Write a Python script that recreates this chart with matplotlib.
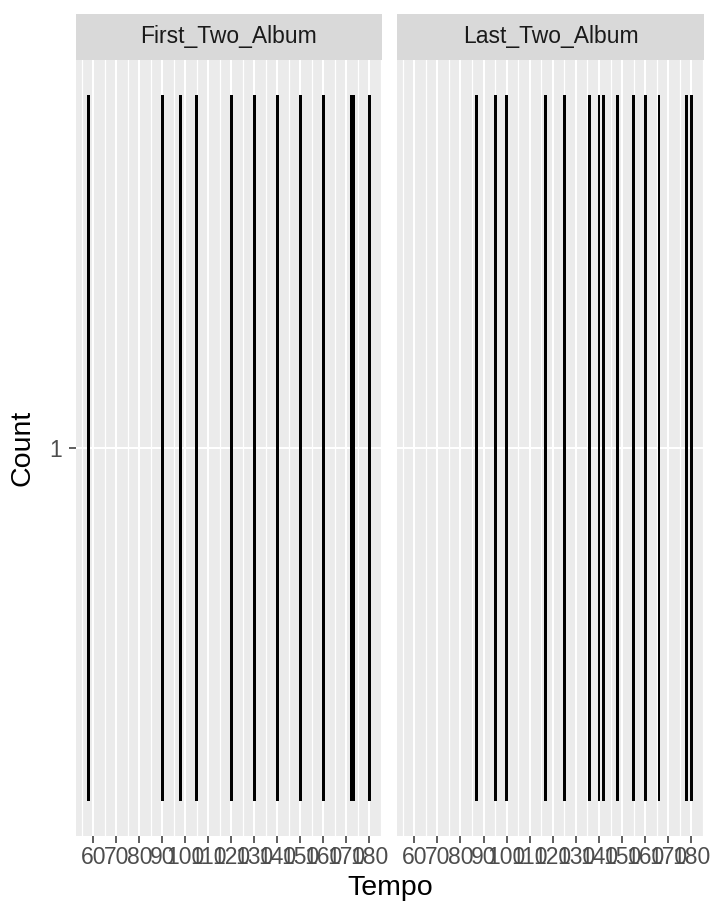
'''Tempo of songs: first two albums vs last two albums'''

import matplotlib
matplotlib.use("Agg")
import matplotlib.pyplot as plt
import numpy as np

# data (one song per tempo value, count = 1)
facets = ["First_Two_Album", "Last_Two_Album"]
first_two = [58, 90, 98, 105, 120, 130, 140, 150, 160, 172, 173, 180]
last_two = [87, 95, 100, 117, 125, 136, 140, 142, 148, 155, 160, 166, 178, 180]
tempos = [first_two, last_two]
x_ticks = list(range(60, 181, 10))
y_ticks = [1]

plt.rcParams["font.family"] = ["Liberation Sans", "DejaVu Sans"]

W, H = 720, 921
fig = plt.figure(figsize=(W / 100, H / 100), dpi=100)

# panel edges in pixels (left, right)
panels = [(76, 382), (397, 704)]
top, bottom = 60, 836
strip_top = 14

for i, (l, r) in enumerate(panels):
    ax = fig.add_axes([l / W, (H - bottom) / H, (r - l) / W, (bottom - top) / H])
    ax.set_facecolor("#EBEBEB")
    ax.bar(tempos[i], np.ones(len(tempos[i])), bottom=0.5, width=1.25, color="black")
    ax.set_xlim(52.5, 185.5)
    ax.set_ylim(0.45, 1.55)
    ax.set_xticks(x_ticks)
    ax.set_xticks(np.arange(55, 186, 10), minor=True)
    ax.set_yticks(y_ticks)
    ax.set_axisbelow(True)
    ax.grid(which="major", color="white", linewidth=1.5)
    ax.grid(which="minor", axis="x", color="white", linewidth=0.9)
    ax.tick_params(which="minor", length=0)
    ax.tick_params(which="major", length=5, width=1.1, color="#333333",
                   labelsize=16.5, labelcolor="#4D4D4D", pad=2)
    ax.tick_params(axis="y", pad=5)
    for s in ax.spines.values():
        s.set_visible(False)
    if i == 0:
        ax.set_ylabel("Count", fontsize=20.5, labelpad=10)
    else:
        ax.set_yticklabels([])
        ax.tick_params(axis="y", length=0)

    # facet strip
    sax = fig.add_axes([l / W, (H - top) / H, (r - l) / W, (top - strip_top) / H])
    sax.set_facecolor("#D9D9D9")
    sax.set_xticks([])
    sax.set_yticks([])
    for s in sax.spines.values():
        s.set_visible(False)
    sax.text(0.5, 0.5, facets[i], ha="center", va="center", fontsize=16.5,
             color="#1A1A1A", transform=sax.transAxes)

fig.text((76 + 704) / 2 / W, 1 - 888 / H, "Tempo", ha="center", va="center", fontsize=20.5)

plt.savefig("out.png", dpi=100)
